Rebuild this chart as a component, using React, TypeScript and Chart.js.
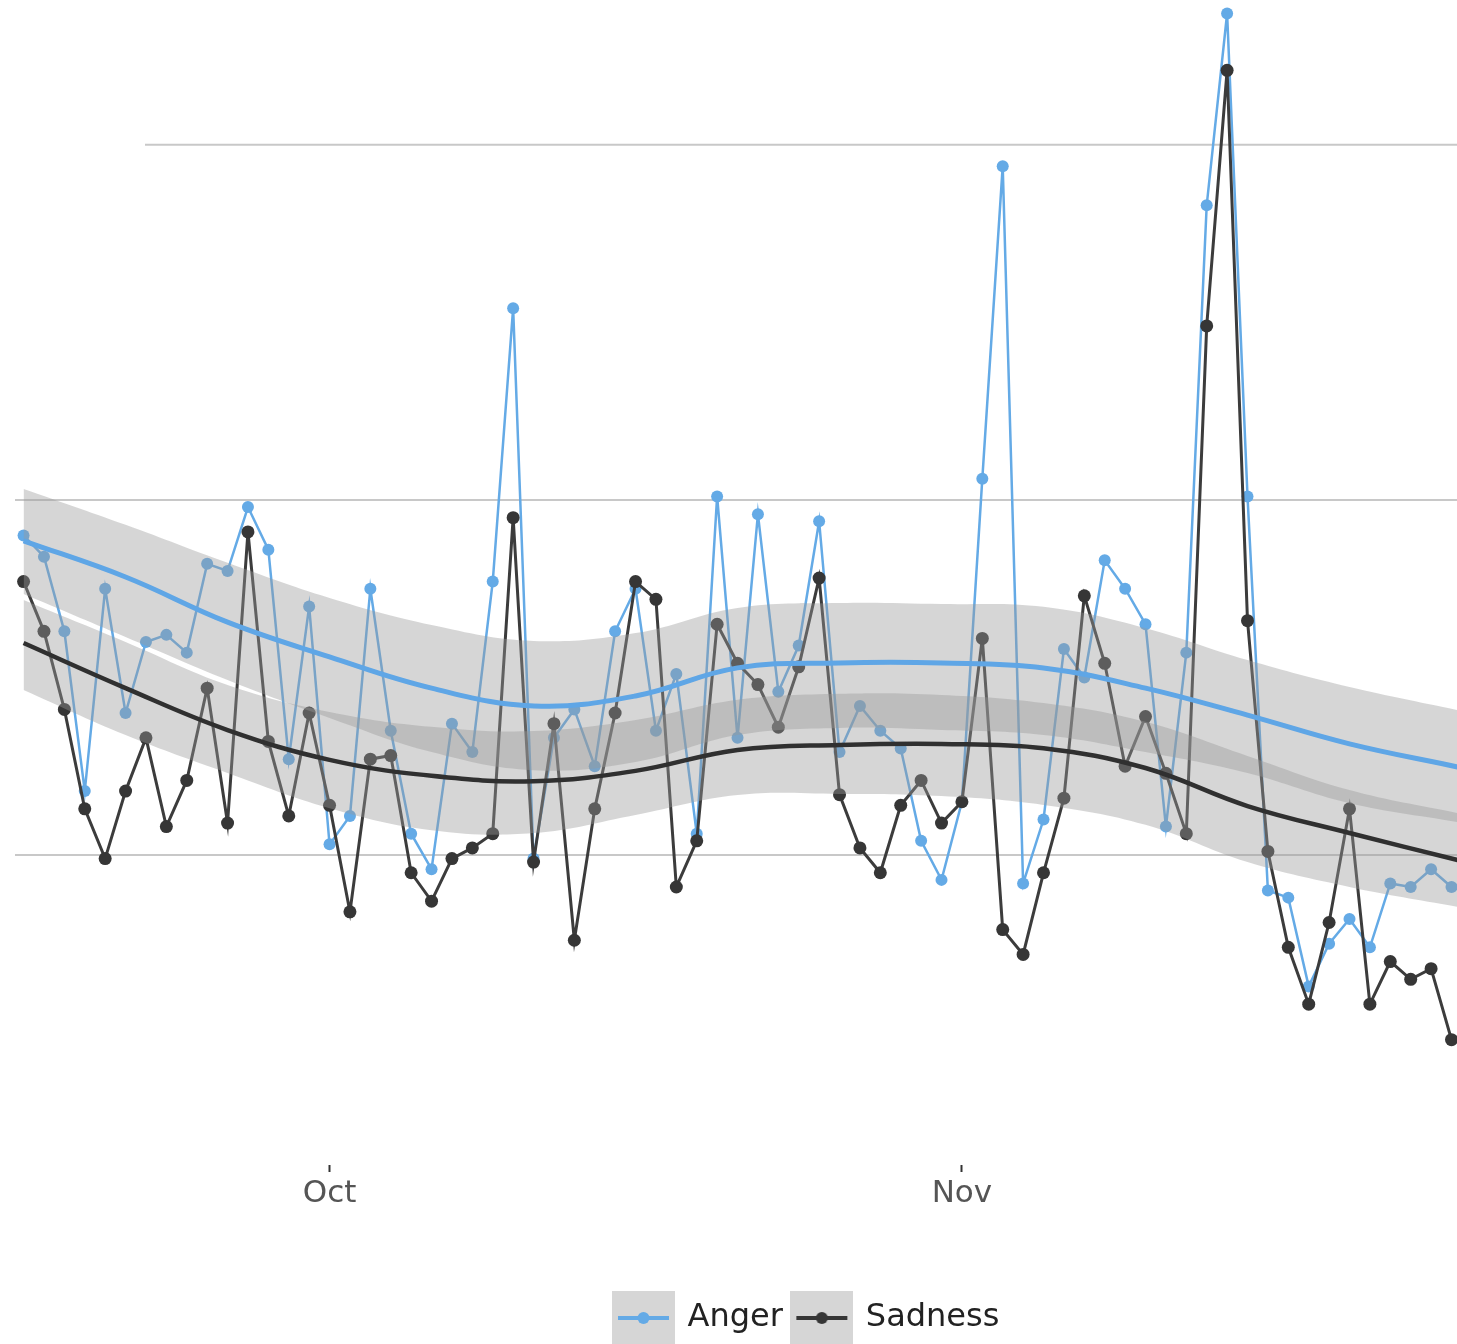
import React, { useEffect, useRef } from 'react';
import { Chart, registerables } from 'chart.js';

Chart.register(...registerables);

// x values are days counted from 1 October (first observation: 16 September)
const firstDay = -15;
const xMin = -15.42;
const xMax = 55.27;
const xTickDays = [0, 31];
const xTickLabels = ['Oct', 'Nov'];
const yMin = 11.27;
const yMax = 44.08;
const yGridValues = [20, 30, 40];
const seriesNames = ['Anger', 'Sadness'];

const angerValues = [
  29.0, 28.4, 26.3, 21.8, 27.5, 24.0, 26.0, 26.2, 25.7, 28.2, 28.0, 29.8, 28.6, 22.7, 27.0, 20.3,
  21.1, 27.5, 23.5, 20.6, 19.6, 23.7, 22.9, 27.7, 35.4, 19.9, 23.3, 24.1, 22.5, 26.3, 27.5, 23.5,
  25.1, 20.6, 30.1, 23.3, 29.6, 24.6, 25.9, 29.4, 22.9, 24.2, 23.5, 23.0, 20.4, 19.3, 21.5, 30.6,
  39.4, 19.2, 21.0, 25.8, 25.0, 28.3, 27.5, 26.5, 20.8, 25.7, 38.3, 43.7, 30.1, 19.0, 18.8, 16.3,
  17.5, 18.2, 17.4, 19.2, 19.1, 19.6, 19.1,
];

const sadnessValues = [
  27.7, 26.3, 24.1, 21.3, 19.9, 21.8, 23.3, 20.8, 22.1, 24.7, 20.9, 29.1, 23.2, 21.1, 24.0, 21.4,
  18.4, 22.7, 22.8, 19.5, 18.7, 19.9, 20.2, 20.6, 29.5, 19.8, 23.7, 17.6, 21.3, 24.0, 27.7, 27.2,
  19.1, 20.4, 26.5, 25.4, 24.8, 23.6, 25.3, 27.8, 21.7, 20.2, 19.5, 21.4, 22.1, 20.9, 21.5, 26.1,
  17.9, 17.2, 19.5, 21.6, 27.3, 25.4, 22.5, 23.9, 22.3, 20.6, 34.9, 42.1, 26.6, 20.1, 17.4, 15.8,
  18.1, 21.3, 15.8, 17.0, 16.5, 16.8, 14.8,
];

// smoothed trend (loess) and its confidence band, sampled every 5 days
const smoothDays = [-15, -10, -5, 0, 5, 10, 15, 20, 25, 30, 35, 40, 45, 50, 55.3];
const angerSmooth = [28.85, 27.83, 26.56, 25.58, 24.7, 24.2, 24.48, 25.27, 25.41, 25.41, 25.27, 24.7, 23.94, 23.13, 22.48];
const angerUpper = [30.31, 29.3, 28.23, 27.24, 26.48, 26.03, 26.25, 26.96, 27.1, 27.07, 26.99, 26.39, 25.49, 24.73, 24.08];
const angerLower = [27.35, 26.14, 24.93, 23.86, 22.9, 22.39, 22.62, 23.38, 23.58, 23.52, 23.38, 22.9, 22.31, 21.46, 20.93];
const sadnessSmooth = [25.97, 24.7, 23.52, 22.68, 22.23, 22.08, 22.37, 22.96, 23.1, 23.13, 23.01, 22.45, 21.38, 20.62, 19.86];
const sadnessUpper = [27.18, 26.0, 24.79, 24.03, 23.61, 23.49, 23.8, 24.37, 24.54, 24.51, 24.28, 23.75, 22.79, 21.83, 21.18];
const sadnessLower = [24.65, 23.38, 22.31, 21.32, 20.7, 20.62, 21.13, 21.69, 21.72, 21.66, 21.41, 20.85, 19.8, 19.1, 18.54];

const angerColor = '#64aae6';
const sadnessColor = '#363636';
const bandFill = 'rgba(153,153,153,0.4)';

const toPoints = (xs: number[], ys: number[]) => ys.map((y, i) => ({ x: xs[i], y }));
const dailyDays = angerValues.map((_, i) => firstDay + i);

function makeKey(color: string, lineWidth: number, radius: number): HTMLCanvasElement {
  const c = document.createElement('canvas');
  c.width = 63;
  c.height = 58;
  const g = c.getContext('2d') as CanvasRenderingContext2D;
  g.fillStyle = '#d6d6d6';
  g.fillRect(0, 0, 63, 58);
  g.strokeStyle = color;
  g.lineWidth = lineWidth;
  g.beginPath();
  g.moveTo(6, 29);
  g.lineTo(57, 29);
  g.stroke();
  g.fillStyle = color;
  g.beginPath();
  g.arc(31.5, 29, radius, 0, Math.PI * 2);
  g.fill();
  return c;
}

const gridPlugin = {
  id: 'hgrid',
  beforeDatasetsDraw(chart: any) {
    const { ctx, chartArea, scales } = chart;
    ctx.save();
    ctx.strokeStyle = '#c8c8c8';
    ctx.lineWidth = 2;
    yGridValues.forEach((v, i) => {
      const y = scales.y.getPixelForValue(v);
      const x0 = i === yGridValues.length - 1 ? 145 : chartArea.left;
      ctx.beginPath();
      ctx.moveTo(x0, y);
      ctx.lineTo(chartArea.right, y);
      ctx.stroke();
    });
    ctx.restore();
  },
};

const legendShift = {
  id: 'legendShift',
  afterLayout(chart: any) {
    const lg = chart.legend;
    if (lg) {
      lg.left = 604.5;
    }
  },
};

export default function App() {
  const ref = useRef<HTMLCanvasElement | null>(null);

  useEffect(() => {
    if (!ref.current) return;
    const keys = [makeKey(angerColor, 4, 6), makeKey(sadnessColor, 4, 6)];
    const chart = new Chart(ref.current, {
      type: 'line',
      data: {
        datasets: [
          {
            label: 'Anger',
            data: toPoints(dailyDays, angerValues),
            borderColor: angerColor,
            backgroundColor: angerColor,
            borderWidth: 2.5,
            pointRadius: 6,
            pointBorderWidth: 0,
            pointBackgroundColor: angerColor,
            tension: 0,
            fill: false,
            order: 4,
          },
          {
            label: 'Sadness',
            data: toPoints(dailyDays, sadnessValues),
            borderColor: '#3c3c3c',
            backgroundColor: sadnessColor,
            borderWidth: 3,
            pointRadius: 6.5,
            pointBorderWidth: 0,
            pointBackgroundColor: sadnessColor,
            tension: 0,
            fill: false,
            order: 3,
          },
          {
            label: 'Anger band low',
            data: toPoints(smoothDays, angerLower),
            borderWidth: 0,
            pointRadius: 0,
            tension: 0.4,
            fill: false,
            order: 2,
          },
          {
            label: 'Anger band high',
            data: toPoints(smoothDays, angerUpper),
            borderWidth: 0,
            pointRadius: 0,
            tension: 0.4,
            backgroundColor: bandFill,
            fill: '-1',
            order: 2,
          },
          {
            label: 'Sadness band low',
            data: toPoints(smoothDays, sadnessLower),
            borderWidth: 0,
            pointRadius: 0,
            tension: 0.4,
            fill: false,
            order: 2,
          },
          {
            label: 'Sadness band high',
            data: toPoints(smoothDays, sadnessUpper),
            borderWidth: 0,
            pointRadius: 0,
            tension: 0.4,
            backgroundColor: bandFill,
            fill: '-1',
            order: 2,
          },
          {
            label: 'Anger trend',
            data: toPoints(smoothDays, angerSmooth),
            borderColor: '#5fa6e6',
            borderWidth: 5,
            pointRadius: 0,
            tension: 0.4,
            fill: false,
            order: 1,
          },
          {
            label: 'Sadness trend',
            data: toPoints(smoothDays, sadnessSmooth),
            borderColor: '#303030',
            borderWidth: 4.5,
            pointRadius: 0,
            tension: 0.4,
            fill: false,
            order: 1,
          },
        ],
      },
      options: {
        responsive: false,
        devicePixelRatio: 1,
        animation: false,
        events: [],
        layout: { autoPadding: false, padding: { left: 15, right: 0, top: 0, bottom: 0 } },
        scales: {
          x: {
            type: 'linear',
            min: xMin,
            max: xMax,
            afterBuildTicks: (s: any) => {
              s.ticks = xTickDays.map((v) => ({ value: v }));
            },
            afterFit: (s: any) => {
              s.height = 126;
            },
            ticks: {
              autoSkip: false,
              maxRotation: 0,
              padding: 3,
              color: '#555555',
              font: { family: 'DejaVu Sans', size: 31 },
              callback: (v: any) => {
                const i = xTickDays.indexOf(Number(v));
                return i >= 0 ? xTickLabels[i] : '';
              },
            },
            grid: {
              display: true,
              drawOnChartArea: false,
              drawTicks: true,
              tickLength: 7,
              tickColor: '#333333',
              tickWidth: 2,
            },
            border: { display: false },
          },
          y: {
            display: false,
            min: yMin,
            max: yMax,
          },
        },
        plugins: {
          tooltip: { enabled: false },
          title: { display: false },
          legend: {
            display: true,
            position: 'bottom',
            align: 'start',
            labels: {
              usePointStyle: true,
              pointStyleWidth: 56,
              padding: 11,
              color: '#222222',
              font: { family: 'DejaVu Sans', size: 32 },
              generateLabels: () =>
                seriesNames.map((name, i) => ({
                  text: name,
                  pointStyle: keys[i],
                  fillStyle: 'transparent',
                  strokeStyle: 'transparent',
                  lineWidth: 0,
                  hidden: false,
                  datasetIndex: i,
                  fontColor: '#222222',
                })),
            },
          },
        },
      },
      plugins: [gridPlugin, legendShift],
    } as any);
    return () => chart.destroy();
  }, []);

  return (
    <div style={{ position: 'absolute', left: 0, top: 0, width: 1457, height: 1344, background: '#ffffff' }}>
      <canvas ref={ref} width={1457} height={1344} style={{ display: 'block' }} />
    </div>
  );
}
